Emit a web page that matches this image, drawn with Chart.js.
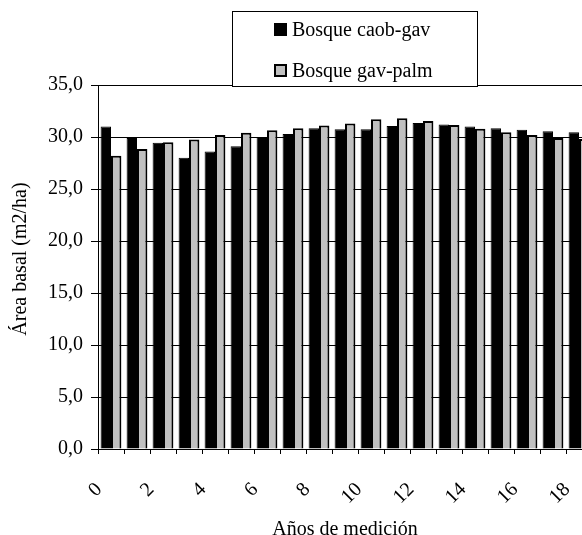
<!DOCTYPE html>
<html>
<head>
<meta charset="utf-8">
<script src="https://cdn.jsdelivr.net/npm/chart.js@4/dist/chart.umd.min.js"></script>
<style>
  html, body { margin: 0; padding: 0; background: #fff; overflow: hidden; }
  #wrap { width: 582px; height: 535px; overflow: hidden; }
</style>
</head>
<body>
<div id="wrap"><canvas id="grafico" width="600" height="542"></canvas></div>
<script>
// Área basal por año de medición ================================================

const anios = ["0", "1", "2", "3", "4", "5", "6", "7", "8", "9",
  "10", "11", "12", "13", "14", "15", "16", "17", "18"];

const caobGav = [31.0, 29.9, 29.45, 28.0, 28.6, 29.1, 30.0, 30.3, 30.85, 30.75,
  30.75, 31.05, 31.35, 31.2, 31.0, 30.85, 30.7, 30.55, 30.45];

const gavPalm = [28.2, 28.85, 29.5, 29.75, 30.2, 30.4, 30.65, 30.85, 31.1, 31.3,
  31.7, 31.8, 31.55, 31.15, 30.8, 30.45, 30.2, 29.9, 29.8];

const yTicks = [0, 5, 10, 15, 20, 25, 30, 35];

const fuente = { family: "'Liberation Serif', 'Times New Roman', serif", size: 20 };

// leyenda con recuadro y título del eje Y, dibujados a mano
const extras = {
  id: "extras",
  afterDraw(chart) {
    const ctx = chart.ctx;
    ctx.save();
    ctx.fillStyle = "#fff";
    ctx.strokeStyle = "#000";
    ctx.lineWidth = 1;
    ctx.fillRect(232, 11, 245, 75);
    ctx.strokeRect(232.5, 11.5, 245, 75);
    ctx.font = "20px " + fuente.family;
    ctx.textBaseline = "middle";
    chart.data.datasets.forEach((ds, i) => {
      const y = 30 + i * 41;
      ctx.fillStyle = ds.backgroundColor;
      ctx.fillRect(274, y - 7, 13, 13);
      if (ds.borderWidth > 1) {
        ctx.lineWidth = 2;
        ctx.strokeStyle = "#000";
        ctx.strokeRect(275, y - 6, 11, 11);
      }
      ctx.fillStyle = "#000";
      ctx.fillText(ds.label, 292, y + 1);
    });

    ctx.translate(21, 259);
    ctx.rotate(-Math.PI / 2);
    ctx.textAlign = "center";
    ctx.fillText("Área basal (m2/ha)", 0, 0);
    ctx.restore();
  },
};

const data = {
  labels: anios,
  datasets: [
    {
      label: "Bosque caob-gav",
      data: caobGav,
      backgroundColor: "#000000",
      borderColor: "#000000",
      borderWidth: 1,
    },
    {
      label: "Bosque gav-palm",
      data: gavPalm,
      backgroundColor: "#C0C0C0",
      borderColor: "#000000",
      borderWidth: 2,
    },
  ],
};

const config = {
  type: "bar",
  data: data,
  options: {
    responsive: false,
    animation: false,
    devicePixelRatio: 1,
    layout: { padding: { top: 85, right: 8, left: 0, bottom: 0 } },
    datasets: { bar: { categoryPercentage: 0.8, barPercentage: 1.0 } },
    plugins: { legend: { display: false }, tooltip: { enabled: false } },
    scales: {
      x: {
        offset: true,
        afterFit: (s) => {
          s.height = 93;
          s.paddingLeft = 0;
          s.paddingRight = 0;
        },
        grid: { offset: true, drawOnChartArea: false, color: "#000", tickLength: 5 },
        border: { color: "#000" },
        ticks: {
          autoSkip: false,
          maxRotation: 45,
          minRotation: 45,
          labelOffset: -12,
          padding: 24,
          color: "#000",
          font: fuente,
          callback: (v, i) => (i % 2 === 0 ? anios[i] : ""),
        },
        title: { display: true, text: "Años de medición", color: "#000", font: fuente, padding: { top: 6, bottom: 0 } },
      },
      y: {
        min: 0,
        max: 35,
        afterBuildTicks: (s) => { s.ticks = yTicks.map((v) => ({ value: v })); },
        afterFit: (s) => { s.width = 98; },
        grid: { color: "#000", tickLength: 7 },
        border: { color: "#000" },
        ticks: {
          padding: 8,
          color: "#000",
          font: fuente,
          callback: (v) => v.toFixed(1).replace(".", ","),
        },
      },
    },
  },
  plugins: [extras],
};

const grafico = new Chart(document.getElementById("grafico"), config);
</script>
</body>
</html>
